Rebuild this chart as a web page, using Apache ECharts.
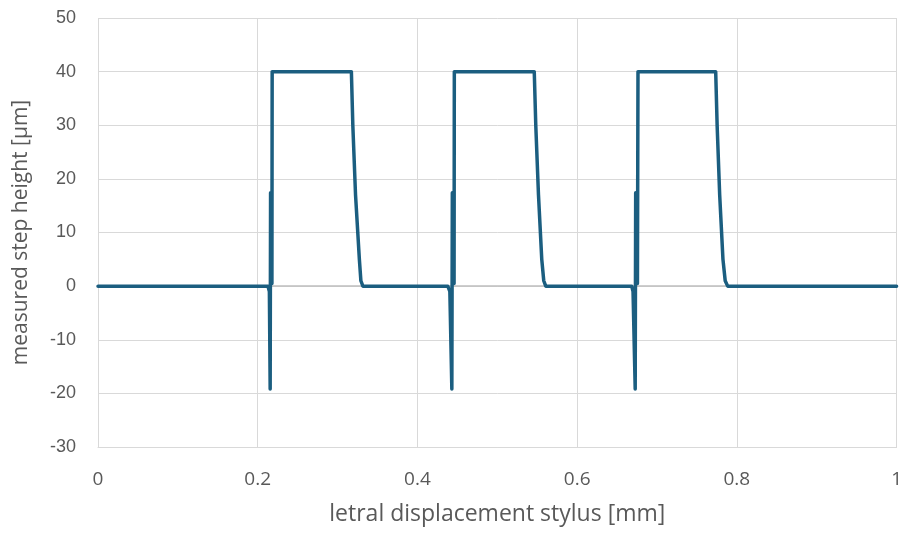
<!DOCTYPE html>
<html>
<head>
<meta charset="utf-8">
<script src="https://cdn.jsdelivr.net/npm/echarts@6/dist/echarts.min.js"></script>
<style>
  html, body { margin: 0; padding: 0; background: #fff; }
  #chart { width: 905px; height: 533px; }
</style>
</head>
<body>
<div id="chart"></div>
<script>
// Stylus profile: lateral position [mm] and measured height [µm]
const displacementMm = [
  0.0000,
  0.2128, 0.2146, 0.2156, 0.2161, 0.2178, 0.2181,
  0.3173, 0.3191, 0.3225, 0.3273, 0.3292, 0.3317,
  0.4380, 0.4406, 0.4431, 0.4437, 0.4459, 0.4462,
  0.5463, 0.5482, 0.5516, 0.5557, 0.5582, 0.5607,
  0.6683, 0.6700, 0.6727, 0.6733, 0.6755, 0.6762,
  0.7735, 0.7753, 0.7785, 0.7826, 0.7854, 0.7885,
  1.0000
];
const stepHeightUm = [
  0,
  0, -1, -19.2, 17.4, 0.5, 40,
  40, 30, 17, 5, 1, 0,
  0, -1, -19.2, 17.4, 0.5, 40,
  40, 30, 17, 5, 1, 0,
  0, -1, -19.2, 17.4, 0.5, 40,
  40, 30, 17, 5, 1, 0,
  0
];
const xTicks = [0, 0.2, 0.4, 0.6, 0.8, 1];
const yTicks = [-30, -20, -10, 0, 10, 20, 30, 40, 50];

const profile = displacementMm.map((x, i) => [x, stepHeightUm[i]]);

const gridColor = '#d9d9d9';
const textColor = '#595959';
const sansFont = "'Open Sans', 'Liberation Sans', sans-serif";
const arialFont = "'Liberation Sans', Arial, sans-serif";

const chart = echarts.init(document.getElementById('chart'), null, { renderer: 'canvas' });
chart.setOption({
  animation: false,
  backgroundColor: '#ffffff',
  grid: { left: 98, right: 8, top: 18, bottom: 86, containLabel: false },
  xAxis: [
    {
      type: 'value',
      min: xTicks[0],
      max: xTicks[xTicks.length - 1],
      interval: 0.2,
      position: 'bottom',
      axisLine: { show: true, onZero: false, lineStyle: { color: gridColor, width: 1 } },
      axisTick: { show: false },
      splitLine: { show: true, lineStyle: { color: gridColor, width: 1 } },
      axisLabel: {
        margin: 23,
        color: textColor,
        fontSize: 19,
        fontFamily: sansFont,
        formatter: v => String(Math.round(v * 10) / 10)
      },
      name: 'letral displacement stylus [mm]',
      nameLocation: 'middle',
      nameGap: 56,
      nameTextStyle: { color: textColor, fontSize: 23, fontFamily: sansFont }
    },
    {
      // zero baseline across the plot
      type: 'value',
      min: xTicks[0],
      max: xTicks[xTicks.length - 1],
      position: 'bottom',
      axisLine: { show: true, onZero: true, lineStyle: { color: '#bfbfbf', width: 1.5 } },
      axisTick: { show: false },
      axisLabel: { show: false },
      splitLine: { show: false }
    }
  ],
  yAxis: {
    type: 'value',
    min: yTicks[0],
    max: yTicks[yTicks.length - 1],
    interval: 10,
    axisLine: { show: false },
    axisTick: { show: false },
    splitLine: { show: true, lineStyle: { color: gridColor, width: 1 } },
    axisLabel: {
      margin: 22,
      color: textColor,
      fontSize: 18,
      fontFamily: arialFont
    },
    name: 'measured step height [µm]',
    nameLocation: 'middle',
    nameRotate: 90,
    nameGap: 66,
    nameTextStyle: { color: textColor, fontSize: 21, fontFamily: sansFont }
  },
  series: [
    {
      type: 'line',
      xAxisIndex: 0,
      data: profile,
      showSymbol: false,
      symbol: 'none',
      lineStyle: { color: '#1b5e80', width: 3.5, join: 'round', cap: 'round' },
      z: 3
    }
  ]
});
</script>
</body>
</html>
